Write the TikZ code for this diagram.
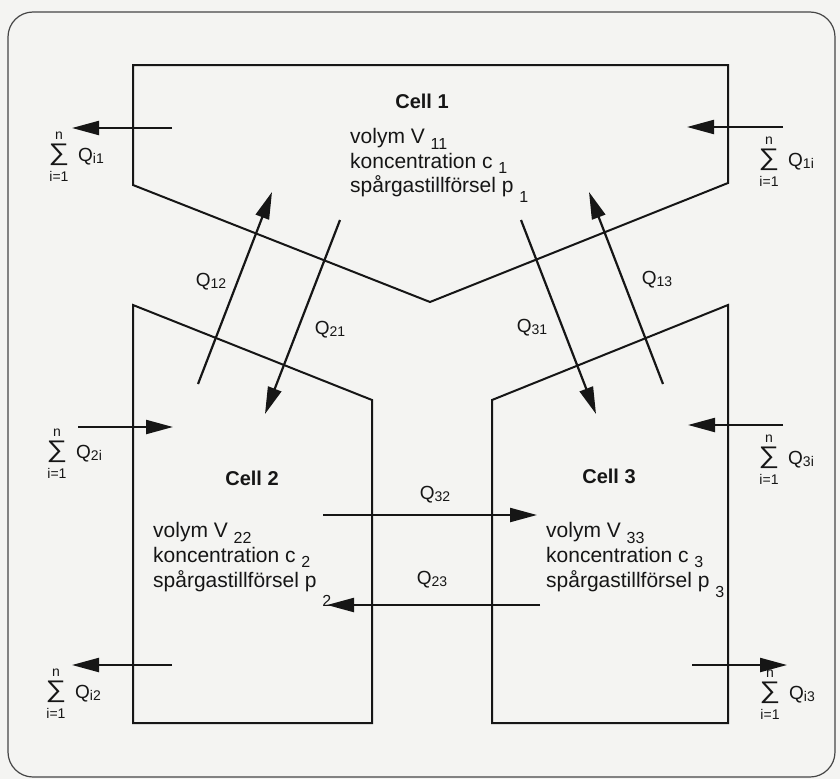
\documentclass[tikz,border=0pt]{standalone}
\usepackage{fontspec}
\setmainfont{Liberation Sans}
\usetikzlibrary{arrows.meta}
\definecolor{bg}{RGB}{244,244,242}
\definecolor{ink}{RGB}{22,22,22}
\definecolor{frame}{RGB}{70,70,70}
\newcommand{\lsub}[2]{\raisebox{-#1}{\fontsize{16}{16}\selectfont #2}}
\newcommand{\qsub}[1]{Q\raisebox{-2pt}{\fontsize{14}{14}\selectfont #1}}
\begin{document}
\begin{tikzpicture}[x=1pt,y=-1pt,
  cellline/.style={line width=2pt, draw=ink, line join=miter},
  flow/.style={line width=2.2pt, draw=ink, -{Triangle[length=27pt,width=14pt]}},
  body/.style={anchor=base west, inner sep=0pt, text=ink, font=\fontsize{21}{21}\selectfont},
  celltitle/.style={anchor=base, inner sep=0pt, text=ink, font=\bfseries\fontsize{20}{20}\selectfont},
  qlab/.style={inner sep=0pt, text=ink, font=\fontsize{19}{19}\selectfont},
  sumsign/.style={inner sep=0pt, text=ink, font=\fontsize{24}{24}\selectfont},
  limtext/.style={inner sep=0pt, text=ink, font=\fontsize{14}{14}\selectfont},
  sumq/.pic={
    \node[sumsign] (-s) at (0,0) {\scalebox{1.2}[1]{∑}};
    \node[limtext, anchor=south] (-n) at (0,-15) {n};
    \node[limtext, anchor=north] (-i) at (0,16) {i=1};
    \node[qlab, anchor=west] (-q) at (19,2) {\qsub{#1}};
  }
]
\fill[bg] (0,0) rectangle (840,779);
\useasboundingbox (0,0) rectangle (840,779);
\draw[line width=1.2pt, draw=frame, rounded corners=25pt] (8,12) rectangle (835,777);

% cells
\draw[cellline] (133,65) -- (728,65) -- (728,183) -- (430,302) -- (133,185) -- cycle;
\draw[cellline] (133,305) -- (372,400) -- (372,723) -- (133,723) -- cycle;
\draw[cellline] (728,305) -- (728,723) -- (492,723) -- (492,400) -- cycle;

% cell texts
\node[celltitle] (t1) at (422,108) {Cell 1};
\node[body] (v1) at (350,143) {volym V\ \lsub{6pt}{11}};
\node[body] (k1) at (350,168) {koncentration c \lsub{5.5pt}{1}};
\node[body] (p1) at (350,192) {spårgastillförsel p \lsub{10pt}{1}};

\node[celltitle] (t2) at (252,485) {Cell 2};
\node[body] (v2) at (153,537) {volym V\ \lsub{6pt}{22}};
\node[body] (k2) at (153,562) {koncentration c \lsub{5.5pt}{2}};
\node[body] (p2) at (153,587) {spårgastillförsel p \lsub{19pt}{2}};

\node[celltitle] (t3) at (609,483) {Cell 3};
\node[body] (v3) at (546,537) {volym V\ \lsub{6pt}{33}};
\node[body] (k3) at (546,562) {koncentration c \lsub{5.5pt}{3}};
\node[body] (p3) at (546,587) {spårgastillförsel p \lsub{10pt}{3}};

% sums
\pic (s1) at (59,155) {sumq=i1};
\pic (s2) at (769,160) {sumq=1i};
\pic (s3) at (57,452) {sumq=2i};
\pic (s4) at (769,458) {sumq=3i};
\pic (s5) at (56,692) {sumq=i2};
\pic (s6) at (770,693) {sumq=i3};

% arrow end points
\coordinate (a1s) at (172,128); \coordinate (a1e) at (72,128);
\coordinate (a2s) at (783,127); \coordinate (a2e) at (687,127);
\coordinate (a3s) at (78,427);  \coordinate (a3e) at (173,427);
\coordinate (a4s) at (783,425); \coordinate (a4e) at (688,425);
\coordinate (a5s) at (172,665); \coordinate (a5e) at (72,665);
\coordinate (a6s) at (692,665); \coordinate (a6e) at (787,665);
\coordinate (q12s) at (198,384); \coordinate (q12e) at (272,192);
\coordinate (q21s) at (340,220); \coordinate (q21e) at (265,414);
\coordinate (q31s) at (521,220); \coordinate (q31e) at (596,414);
\coordinate (q13s) at (663,384); \coordinate (q13e) at (589,192);
\coordinate (q32s) at (323,515); \coordinate (q32e) at (537,515);
\coordinate (q23s) at (540,605); \coordinate (q23e) at (327,605);

\foreach \n in {a1,a2,a3,a4,a5,a6,q12,q21,q31,q13,q32,q23}
  \draw[flow] (\n s) -- (\n e);

% flow labels
\node[qlab] (l12) at (211,282) {\qsub{12}};
\node[qlab] (l21) at (330,330) {\qsub{21}};
\node[qlab] (l31) at (532,328) {\qsub{31}};
\node[qlab] (l13) at (657,280) {\qsub{13}};
\node[qlab] (l32) at (435,495) {\qsub{32}};
\node[qlab] (l23) at (432,580) {\qsub{23}};
\end{tikzpicture}
\end{document}
